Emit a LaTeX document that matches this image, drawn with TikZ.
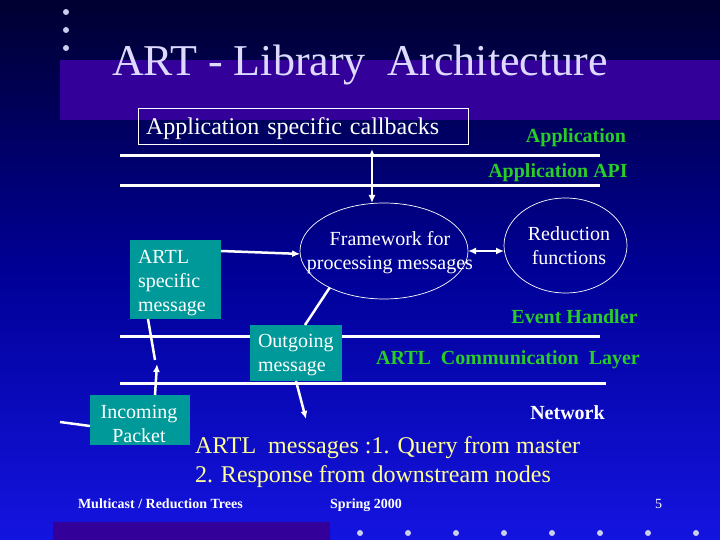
\documentclass[tikz,border=0pt]{standalone}
\usepackage{fontspec}
\setmainfont{Liberation Serif}
\usetikzlibrary{shapes.geometric,arrows.meta}
\definecolor{bgtop}{RGB}{0,0,48}
\definecolor{bgmid}{RGB}{0,0,150}
\definecolor{bgbot}{RGB}{20,20,225}
\definecolor{bandcol}{RGB}{51,0,153}
\definecolor{titlecol}{RGB}{222,218,255}
\definecolor{dotcol}{RGB}{204,204,238}
\definecolor{boxteal}{RGB}{0,153,153}
\definecolor{lblgreen}{RGB}{40,205,40}
\definecolor{msgyellow}{RGB}{255,255,150}
\begin{document}
\begin{tikzpicture}[x=1pt,y=-1pt,
  every node/.style={inner sep=0pt, outer sep=0pt},
  sepline/.style={draw=white, line width=3pt},
  conn/.style={draw=white, line width=2.5pt},
  arr/.style={-{Latex[length=8pt,width=7pt]}},
  darr/.style={{Latex[length=8pt,width=7pt]}-{Latex[length=8pt,width=7pt]}},
  tealbox/.style={fill=boxteal, anchor=north west},
  bubble/.style={ellipse, draw=white, line width=0.7pt},
  boxtxt/.style={text=white, font=\fontsize{20}{24}\selectfont},
  layer/.style={text=lblgreen, font=\fontsize{20}{24}\selectfont\bfseries, anchor=base},
  yel/.style={text=msgyellow, font=\fontsize{24}{29}\selectfont, anchor=base west},
  foot/.style={text=white, font=\fontsize{14}{17}\selectfont\bfseries, anchor=base west},
]
% background
\fill[top color=bgtop, bottom color=bgbot, middle color=bgmid] (0,0) rectangle (720,540);
\useasboundingbox (0,0) rectangle (720,540);
\fill[bandcol] (60,60) rectangle (720,120);
\fill[bandcol] (53,522) rectangle (330,540);
\foreach \y in {12,30,48} \fill[dotcol] (66,\y) circle (3);
\foreach \x in {360,408,...,696} \fill[dotcol] (\x,533) circle (3);

% title
\node[anchor=base west, text=titlecol, font=\fontsize{44}{52}\selectfont] (title) at (112,76) {ART - Library\ \ Architecture};

% callbacks box
\node[draw=white, line width=0.8pt, anchor=north west, minimum height=36, text width=314pt, inner xsep=8pt, text depth=0pt, align=left, text=white, font=\fontsize{24}{29}\selectfont] (cb) at (138,108) {Application specific callbacks};

% layer separators
\draw[sepline] (120,156) -- (600,156);
\draw[sepline] (120,186) -- (600,186);
\draw[sepline] (120,336) -- (600,336);
\draw[sepline] (120,383) -- (606,383);

% layer labels
\node[layer] (app) at (576,143) {Application};
\node[layer] (api) at (558,178) {Application API};
\node[layer] (eh) at (574.5,323) {Event Handler};
\node[layer] (comm) at (508,364) {ARTL\ \ Communication\ \ Layer};
\node[layer, text=white] (net) at (567.5,419) {Network};

% ellipses
\node[bubble, minimum width=168, minimum height=96] (fw) at (384,251) {};
\node[boxtxt, align=center, anchor=north] (fwtext) at (390,231.3) {Framework for\\processing messages};
\node[bubble, minimum width=123, minimum height=95] (red) at (565.5,245.5) {};
\node[boxtxt, align=center, anchor=north] (redtext) at (569,226.3) {Reduction\\functions};

% teal boxes
\node[tealbox, minimum width=91, minimum height=79] (artl) at (130,240) {};
\node[boxtxt, align=left, anchor=north west] (artltext) at (138,250) {ARTL\\specific\\message};
\node[tealbox, minimum width=92, minimum height=56] (out) at (250,325) {};
\node[boxtxt, align=left, anchor=north west] (outtext) at (258,334.3) {Outgoing\\message};
\node[tealbox, minimum width=100, minimum height=50] (inc) at (90,395) {};
\node[boxtxt, align=center, anchor=north] (inctext) at (139,405.3) {Incoming\\Packet};

% connectors
\draw[conn, darr, shorten <=5pt] ([xshift=69pt]cb.south) -- ([xshift=69pt]cb.south |- fw.north);
\draw[conn, darr] (fw.east) -- (fw.east -| red.west);
\draw[conn, arr] ([yshift=-11pt]artl.north east) -- (fw.182);
\draw[conn] (fw.214) -- ([xshift=9pt]out.north);
\coordinate (netout) at (306,419);
\draw[conn, arr] (out.south) -- (netout);
\coordinate (mid) at (157,364);
\coordinate (mid2) at (155,360);
\draw[conn, arr] ([xshift=15pt]inc.north) -- (mid);
\draw[conn] ([xshift=-27.5pt]artl.south) -- (mid2);
\coordinate (netin) at (60,422);
\draw[conn] (netin) -- ([yshift=-6pt]inc.west);

% message text
\node[yel] (msg1) at (195,453) {ARTL\ \ messages :1. Query from master};
\node[yel] (msg2) at (195,482) {2. Response from downstream nodes};

% footer
\node[foot] (f1) at (78,508) {Multicast / Reduction Trees};
\node[foot] (f2) at (330,508) {Spring 2000};
\node[foot, font=\fontsize{14}{17}\selectfont] (f3) at (655,508) {5};
\end{tikzpicture}
\end{document}
